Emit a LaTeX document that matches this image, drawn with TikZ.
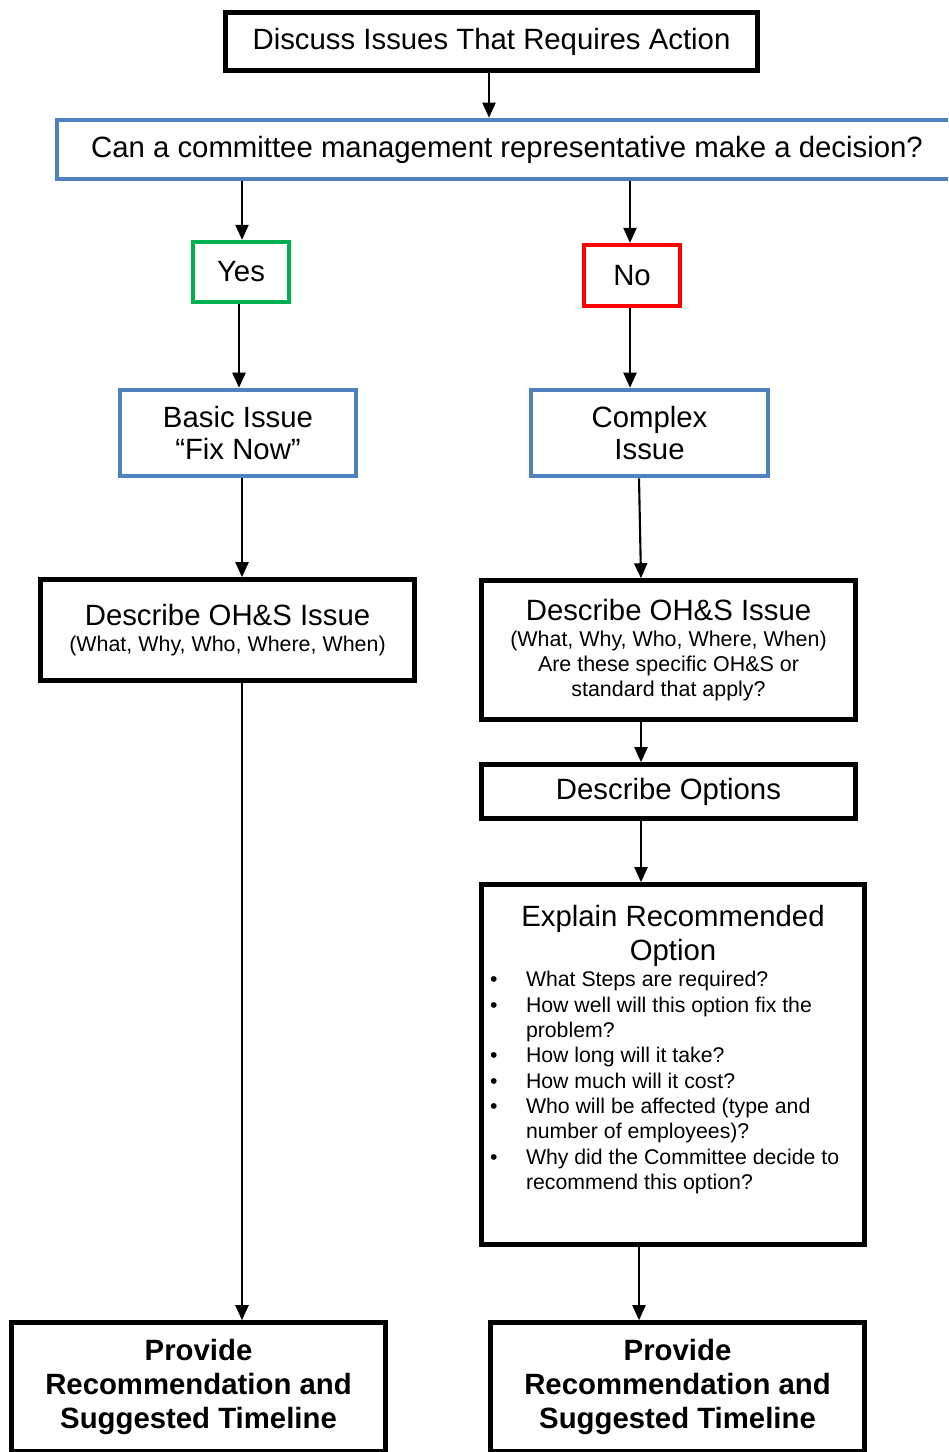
\documentclass[tikz,border=0pt]{standalone}
\usepackage{fontspec}
\setmainfont{Liberation Sans}
\usepackage{enumitem}
\usetikzlibrary{arrows.meta}

\definecolor{ohsblue}{HTML}{4F81BD}
\definecolor{ohsgreen}{HTML}{00B050}
\definecolor{ohsred}{HTML}{FF0000}

\newlength\pxu
\setlength\pxu{0.02cm}
\newcommand{\bigtxt}{\fontsize{16.7}{18.8}\selectfont}
\newcommand{\smalltxt}{\fontsize{12.2}{14.2}\selectfont}
\newcommand{\listtxt}{\fontsize{12.1}{14.4}\selectfont}
\newcommand{\boldtxt}{\fontsize{16.7}{19.3}\selectfont\bfseries}

\begin{document}
\begin{tikzpicture}[
  x=0.02cm, y=-0.02cm,
  every node/.style={align=center, inner sep=0pt, font=\bigtxt},
  frame/.style={draw=black, line width=2.6pt},
  blueframe/.style={draw=ohsblue, line width=2.6pt},
  yesframe/.style={draw=ohsgreen, line width=2.4pt},
  noframe/.style={draw=ohsred, line width=2.4pt},
  link/.style={line width=1.2pt, -{Triangle[length=0.3cm, width=0.26cm]}}
]
\useasboundingbox (0,0) rectangle (948,1452);
\clip (0,0) rectangle (948,1452);

% ── question at the top ─────────────────────────────────────────────
\node[frame, minimum width=532\pxu, minimum height=58\pxu] (discuss) at (491.5,41.5)
  {Discuss Issues That Requires Action};
\node[blueframe, minimum width=900\pxu, minimum height=59\pxu] (decide) at (507,149.5)
  {Can a committee management representative make a decision?};

% ── the two answers ────────────────────────────────────────────────
\node[yesframe, minimum width=96\pxu, minimum height=60\pxu] (yes) at (241,272) {Yes};
\node[noframe, minimum width=96\pxu, minimum height=61\pxu] (no) at (632,275.5) {No};

\node[blueframe, minimum width=236\pxu, minimum height=86\pxu, font=\fontsize{16.7}{18.7}\selectfont]
  (basic) at (238,433) {Basic Issue\\“Fix Now”};
\node[blueframe, minimum width=237\pxu, minimum height=86\pxu, font=\fontsize{16.7}{18.7}\selectfont]
  (complex) at (649.5,433) {Complex\\Issue};

% ── left column ────────────────────────────────────────────────────
\node[frame, minimum width=374\pxu, minimum height=101\pxu, font=\smalltxt] (descL) at (227.5,630)
  {{\bigtxt Describe OH\&S Issue}\\[1\pxu]
   (What, Why, Who, Where, When)};
\node[frame, minimum width=374\pxu, minimum height=128.5\pxu, font=\boldtxt] (provL) at (198.5,1386.75)
  {Provide\\Recommendation and\\Suggested Timeline};

% ── right column ───────────────────────────────────────────────────
\node[frame, minimum width=374\pxu, minimum height=139\pxu, font=\smalltxt] (descR) at (668.5,650)
  {{\bigtxt Describe OH\&S Issue}\\[1\pxu]
   (What, Why, Who, Where, When)\\
   Are these specific OH\&S or\\
   standard that apply?};
\node[frame, minimum width=374\pxu, minimum height=54\pxu] (options) at (668.5,791.5)
  {Describe Options};
\node[frame, minimum width=383\pxu, minimum height=360\pxu, align=left] (explain) at (673,1064.5)
  {\begin{minipage}[c][318\pxu][t]{360\pxu}
   {\centering\fontsize{16.7}{19.3}\selectfont Explain Recommended\\Option\par}
   \listtxt
   \begin{itemize}[label=\textbullet, leftmargin=33\pxu, labelindent=-3\pxu,
                   labelwidth=36\pxu, labelsep=0pt, align=left,
                   topsep=1\pxu, itemsep=0pt, parsep=0pt, partopsep=0pt]
     \item What Steps are required?
     \item How well will this option fix the\newline problem?
     \item How long will it take?
     \item How much will it cost?
     \item Who will be affected (type and\newline number of employees)?
     \item Why did the Committee decide to\newline recommend this option?
   \end{itemize}
   \end{minipage}};
\node[frame, minimum width=374\pxu, minimum height=128.5\pxu, font=\boldtxt] (provR) at (677.5,1386.75)
  {Provide\\Recommendation and\\Suggested Timeline};

% ── connectors ─────────────────────────────────────────────────────
\coordinate (lcol) at (242,0);
\coordinate (rcol) at (640,0);

\draw[link] (discuss.south -| 489,0) -- (decide.north -| 489,0);
\draw[link] (decide.south -| lcol) -- (yes.north -| lcol);
\draw[link] (decide.south -| 630,0) -- (no.north -| 630,0);
\draw[link] (yes.south -| 239,0) -- (basic.north -| 239,0);
\draw[link] (no.south -| 630,0) -- (complex.north -| 630,0);
\draw[link] (basic.south -| lcol) -- (descL.north -| lcol);
\draw[link] (complex.south -| 639,0) -- (descR.north -| 641,0);
\draw[link] (descL.south -| lcol) -- (provL.north -| lcol);
\draw[link] (descR.south -| 641,0) -- (options.north -| 641,0);
\draw[link] (options.south -| 641,0) -- (explain.north -| 641,0);
\draw[link] (explain.south -| 639,0) -- (provR.north -| 639,0);

\end{tikzpicture}
\end{document}
